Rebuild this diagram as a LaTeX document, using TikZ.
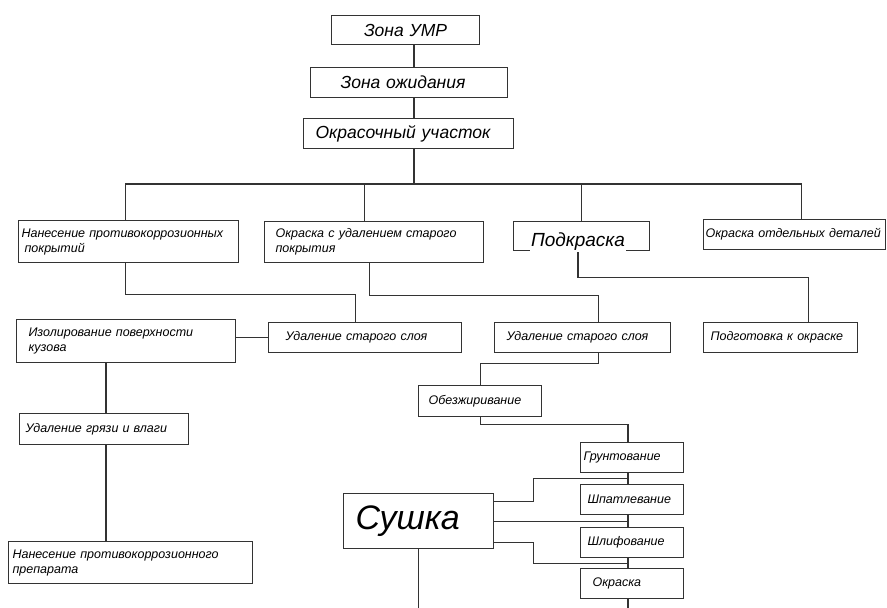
\documentclass[tikz,border=0pt]{standalone}
\usepackage{fontspec}
\setmainfont{Liberation Sans}
\usetikzlibrary{calc, positioning}
\definecolor{inkgrey}{rgb}{0.2, 0.2, 0.2}
\tikzset{block/.style={draw=inkgrey, rectangle, anchor=north west, align=left, inner ysep=0pt, line width=1.1pt, font=\itshape\fontsize{12.5}{15}\selectfont}}
\tikzset{bigblock/.style={block, font=\itshape\fontsize{17.5}{20}\selectfont}}
\tikzset{link/.style={color=inkgrey, line width=1.1pt}}

\begin{document}
\begin{tikzpicture}[x=1pt, y=-1pt]
        \useasboundingbox (0, 0) rectangle (887, 608);
        \begin{scope}
            % top chain
            \node[bigblock, minimum width=148, minimum height=29, text width=148, inner xsep=0pt, align=center] (Numr) at (331, 15) {Зона УМР};
            \node[bigblock, minimum height=30, inner xsep=30pt, text width=137] (Nwait) at (310, 67) {Зона ожидания};
            \node[bigblock, minimum height=30, inner xsep=12pt, text width=186] (Npaint) at (303, 118) {Окрасочный участок};

            % second row
            \node[block, minimum height=42, inner xsep=3pt, text width=214] (Ncoat) at (18, 220) {Нанесение противокоррозионных\\\hspace{3pt}покрытий};
            \node[block, minimum height=41, inner xsep=11pt, text width=197] (Nstrip) at (264, 221) {Окраска с удалением старого\\покрытия};
            \node[block, minimum height=29, inner xsep=0pt, text width=136] (Ntouch) at (513, 221) {};
            \node[fill=white, inner xsep=1pt, inner ysep=2pt, anchor=base, font=\itshape\fontsize{19}{22}\selectfont] (Ntouchlbl) at (578, 246) {Подкраска};
            \node[block, minimum height=30, inner xsep=2pt, text width=178] (Nparts) at (703, 219) {Окраска отдельных деталей};

            % third row
            \node[block, minimum height=43, inner xsep=12pt, text width=195] (Niso) at (16, 319) {Изолирование поверхности\\кузова};
            \node[block, minimum height=30, inner xsep=17pt, text width=159] (Nold1) at (268, 322) {Удаление старого слоя};
            \node[block, minimum height=30, inner xsep=12pt, text width=152] (Nold2) at (494, 322) {Удаление старого слоя};
            \node[block, minimum height=30, inner xsep=7pt, text width=140] (Nprep) at (703, 322) {Подготовка к окраске};

            % left column
            \node[block, minimum height=31, inner xsep=6pt, text width=157] (Ndirt) at (19, 413) {Удаление грязи и влаги};
            \node[block, minimum height=42, inner xsep=4pt, text width=236] (Nanti) at (8, 541) {Нанесение противокоррозионного\\препарата};

            % right column
            \node[block, minimum height=31, inner xsep=10pt, text width=103] (Ndegr) at (418, 385) {Обезжиривание};
            \node[block, minimum height=30, inner xsep=3pt, text width=97] (Nprime) at (580, 442) {Грунтование};
            \node[block, minimum height=30, inner xsep=7pt, text width=89] (Nputty) at (580, 484) {Шпатлевание};
            \node[block, minimum height=30, inner xsep=7pt, text width=89] (Nsand) at (580, 527) {Шлифование};
            \node[block, minimum height=30, inner xsep=12pt, text width=79] (Npaint2) at (580, 568) {Окраска};
            \node[block, minimum height=55, inner xsep=12pt, text width=126, font=\itshape\fontsize{34}{38}\selectfont] (Ndry) at (343, 493) {Сушка};

            % rails
            \coordinate (Ctrunk) at (414, 184);
            \coordinate (Cleft) at (106, 0);
            \coordinate (Cright) at (628, 0);
            \coordinate (Cfloor) at (0, 608);

            \draw [link] (Numr.south -| Ctrunk) -- (Nwait.north -| Ctrunk);
            \draw [link] (Nwait.south -| Ctrunk) -- (Npaint.north -| Ctrunk);
            \draw [link] (Npaint.south -| Ctrunk) -- (Ctrunk);
            \draw [link] ([xshift=-3pt]Ncoat.north) |- (Ctrunk) -| ([xshift=7pt]Nparts.north);
            \draw [link] ([xshift=-10pt]Nstrip.north) -- ([xshift=-10pt]Nstrip.north |- Ctrunk);
            \draw [link] (Ntouch.north) -- (Ntouch.north |- Ctrunk);

            \draw [link] ([xshift=-3pt]Ncoat.south) -- ++(0, 31) -| ([xshift=-10pt]Nold1.north);
            \draw [link] ([xshift=-5pt]Nstrip.south) -- ++(0, 32) -| ([xshift=16pt]Nold2.north);
            \draw [link] (Ntouchlbl.south) -- ++(0, 25) -| ([xshift=28pt]Nprep.north);

            \draw [link] (Niso.east |- Nold1.west) -- (Nold1.west);
            \draw [link] (Niso.south -| Cleft) -- (Ndirt.north -| Cleft);
            \draw [link] (Ndirt.south -| Cleft) -- (Nanti.north -| Cleft);

            \draw [link] ([xshift=16pt]Nold2.south) -- ++(0, 10) -| (Ndegr.north);
            \draw [link] (Ndegr.south) -- ++(0, 7) -| (Nprime.north -| Cright);
            \draw [link] (Nprime.south -| Cright) -- (Nputty.north -| Cright);
            \draw [link] (Nputty.south -| Cright) -- (Nsand.north -| Cright);
            \draw [link] (Nsand.south -| Cright) -- (Npaint2.north -| Cright);
            \draw [link] (Npaint2.south -| Cright) -- (Cright |- Cfloor);

            \draw [link] ([yshift=20pt]Ndry.east) -- ++(39, 0) |- ($(Nprime.south -| Cright)!0.5!(Nputty.north -| Cright)$);
            \draw [link] (Ndry.east) -- (Ndry.east -| Cright);
            \draw [link] ([yshift=-21pt]Ndry.east) -- ++(39, 0) |- ($(Nsand.south -| Cright)!0.5!(Npaint2.north -| Cright)$);
            \draw [link] (Ndry.south) -- (Ndry.south |- Cfloor);
        \end{scope}
    \end{tikzpicture}
\end{document}
